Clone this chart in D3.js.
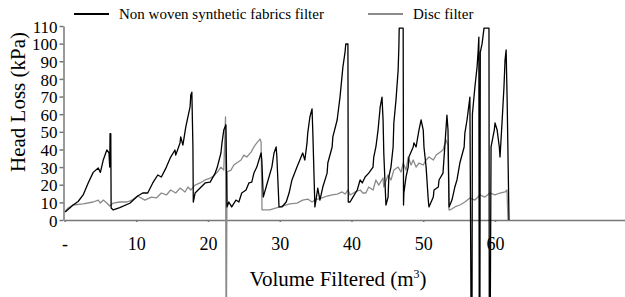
<!DOCTYPE html>
<html>
<head>
<meta charset="utf-8">
<script src="https://cdn.jsdelivr.net/npm/d3@7"></script>
<style>
  html, body { margin: 0; padding: 0; background: #fff; }
  svg { display: block; font-family: "Liberation Serif", "Times New Roman", serif; }
  .axis path, .axis line { stroke: #777; stroke-width: 1.5; }
  .axis text { font-family: "Liberation Serif", "Times New Roman", serif; fill: #000; }
  .series { fill: none; stroke-width: 1.3; stroke-linejoin: round; }
  .legend text { font-size: 15px; }
</style>
</head>
<body>
<svg id="chart" width="625" height="297"></svg>
<script>
// Series names and colours
const seriesNames = ['Non woven synthetic fabrics filter', 'Disc filter'];
const seriesColors = ['#000000', '#8a8a8a'];

// Axis ticks
const xTicks = [0, 10, 20, 30, 40, 50, 60];
const xTickLabels = ['-', '10', '20', '30', '40', '50', '60'];
const yTicks = [0, 10, 20, 30, 40, 50, 60, 70, 80, 90, 100, 110];

// Head loss (kPa) against volume filtered (m3)
const nonwoven = [
  [0.1, 4.5], [1.2, 8.5], [1.9, 10.5], [2.6, 14.2], [3.3, 21], [4.0, 27], [4.7, 29.5], [5.0, 27],
  [5.4, 34], [5.9, 39.7], [6.2, 38], [6.3, 30], [6.35, 49], [6.45, 49], [6.5, 6.8], [6.8, 5.7],
  [7.7, 7], [9.1, 9.5], [10.2, 13.6], [10.9, 15.3], [11.6, 15.3], [12.3, 21], [13.0, 25.5],
  [13.5, 24.4], [14.2, 30], [14.8, 35.7], [15.4, 39.7], [15.5, 36.8], [16.1, 43.7], [16.2, 47.1],
  [16.5, 42.5], [16.9, 52.7], [17.5, 64.1], [17.6, 70.9], [17.75, 72.5], [17.9, 41], [17.95, 10.2],
  [18.2, 15.3], [18.9, 18.1], [19.6, 21], [20.3, 21.5], [21.0, 26.6], [21.3, 30], [21.8, 38],
  [21.95, 43.7], [22.2, 51], [22.5, 54], [22.65, 7.4], [22.9, 10.2], [23.3, 7.4], [23.9, 11.3],
  [24.3, 10.2], [24.7, 15.3], [25.3, 17], [25.7, 21], [26.1, 21.5], [26.4, 26.6], [26.8, 30],
  [27.1, 34], [27.4, 38], [27.5, 34], [27.7, 13], [28.1, 18.7], [28.5, 24.4], [28.9, 30],
  [29.2, 38], [29.5, 41.4], [29.6, 35.7], [29.9, 7.4], [30.3, 7.4], [30.9, 10.2], [31.3, 15.3],
  [31.7, 22.7], [32.4, 30], [32.8, 34], [33.2, 38], [33.5, 34], [33.8, 43.7], [33.9, 49.3],
  [34.2, 58.4], [34.5, 63], [34.6, 51], [34.9, 7.4], [35.2, 15.3], [35.3, 18.1], [35.6, 11.3],
  [36.0, 18.7], [36.6, 26.6], [36.7, 32.3], [37.3, 41.4], [37.4, 47.1], [38.0, 56.7], [38.4, 69.7],
  [38.8, 86.7], [39.1, 95.2], [39.2, 99.8], [39.5, 99.8], [39.55, 10.2], [39.8, 10.2], [40.2, 13],
  [40.8, 17], [41.2, 22.7], [41.5, 21], [41.9, 24.4], [42.4, 26.6], [43.0, 30], [43.1, 35.7],
  [43.4, 41.4], [43.7, 51], [44.0, 64.1], [44.25, 69.7], [44.4, 56.7], [44.5, 38], [44.8, 8.5],
  [45.1, 13], [45.2, 24.4], [45.5, 30], [45.8, 41.4], [45.9, 55], [46.2, 68], [46.5, 85],
  [46.6, 98], [46.65, 108.8], [47.2, 108.8], [47.25, 8.5], [47.3, 15.3], [47.6, 24.4], [47.9, 30],
  [48.0, 35.7], [48.6, 41.4], [48.7, 43.7], [49.0, 41.4], [49.4, 51], [49.7, 56.7], [50.0, 51],
  [50.1, 41.4], [50.4, 30], [50.7, 11.3], [50.8, 7.4], [51.4, 13], [51.5, 17], [52.1, 18.7],
  [52.2, 22.7], [52.75, 26.6], [53.0, 41.4], [53.3, 59.5], [53.45, 51], [53.6, 7.4], [54.0, 11.3],
  [54.4, 18.7], [54.7, 22.7], [55.1, 32.3], [55.7, 41.4], [55.8, 49.3], [56.1, 56.7], [56.4, 66.3],
  [56.5, 69.7], [56.65, -45], [56.8, -45], [56.85, 60], [57.2, 75.4], [57.5, 86.7], [57.65, 96],
  [57.75, 103.7], [57.8, -45], [57.9, -45], [57.95, 95], [58.2, 100], [58.47, 108.8], [59.16, 108.8],
  [59.2, -45], [59.35, -45], [59.45, 41.4], [59.9, 51], [60.0, 55], [60.3, 51], [60.6, 41.4],
  [60.7, 35.7], [61.0, 56.7], [61.25, 75.4], [61.4, 90.7], [61.55, 96.4], [61.7, 66.3], [61.95, 0],
];

const disc = [
  [0, 4.5], [0.5, 6.8], [1.2, 8.5], [2.6, 9.1], [4.0, 10.2], [4.7, 11.3], [5.0, 9.6], [5.4, 11.3],
  [5.9, 9.6], [6.3, 7.9], [6.8, 9.6], [7.7, 10.2], [8.7, 10.2], [9.4, 11.3], [10.2, 13.6], [11.2, 11.3],
  [12.1, 13], [12.8, 12.5], [13.5, 15.3], [14.2, 14.2], [14.8, 17], [15.5, 15.3], [16.1, 18.1],
  [16.8, 15.9], [17.2, 18.7], [17.6, 17], [18.2, 19.8], [18.9, 21], [19.6, 22.7], [20.3, 23.8],
  [20.8, 24.9], [21.3, 27.2], [21.8, 30], [22.2, 28.3], [22.44, 58.4], [22.51, -45], [22.58, -45],
  [22.65, 27.2], [23.2, 28.3], [23.6, 31.2], [24.0, 32.3], [24.6, 34], [25.0, 36.8], [25.4, 35.7],
  [26.0, 38.5], [26.4, 41.4], [26.8, 43.7], [27.25, 45.9], [27.4, 44.2], [27.53, 5.7], [28.6, 5.7],
  [30.0, 7.4], [31.4, 9.1], [32.4, 9.6], [33.2, 11.3], [33.9, 11.9], [34.5, 10.2], [34.9, 11.3],
  [35.3, 11.9], [35.9, 12.5], [36.6, 13.6], [37.3, 14.2], [38.0, 14.7], [38.7, 15.9], [39.1, 14.7],
  [39.5, 17], [39.8, 14.2], [40.5, 15.9], [41.2, 17], [41.6, 15.3], [42.0, 15.3], [42.4, 18.7],
  [43.0, 17], [43.4, 22.7], [43.8, 19.8], [44.4, 23.8], [44.5, 18.7], [45.1, 25.5], [45.5, 22.7],
  [45.9, 28.3], [46.5, 30], [46.9, 27.2], [47.2, 32.3], [47.6, 28.3], [47.9, 35.7], [48.3, 31.2],
  [48.6, 34], [49.0, 30], [49.4, 32.3], [50.0, 31.2], [50.4, 34], [50.8, 35.7], [51.4, 34],
  [51.8, 36.8], [52.2, 38], [52.75, 39.7], [53.17, 45.4], [53.45, 42.5], [53.59, 5.7], [53.73, 5.7],
  [54.4, 7.4], [55.1, 8.5], [55.8, 10.2], [56.5, 12.5], [57.2, 11.3], [57.9, 14.2], [58.6, 13],
  [59.3, 15.3], [60.0, 14.2], [60.7, 15.3], [61.4, 15.9], [61.67, 17], [61.81, 0],
];

const svg = d3.select('#chart');

const x = d3.scaleLinear().domain([0, 80]).range([64.5, 638.5]);
const y = d3.scaleLinear().domain([0, 110]).range([220, 26]);

// Axes
svg.append('g')
  .attr('class', 'axis x')
  .attr('transform', 'translate(0, 220)')
  .call(d3.axisBottom(x)
    .tickValues(xTicks)
    .tickFormat((d, i) => xTickLabels[i])
    .tickSize(2)
    .tickSizeOuter(0)
    .tickPadding(15))
  .attr('font-family', null)
  .call((g) => g.selectAll('.tick line').attr('stroke', '#000').attr('stroke-width', 1))
  .call((g) => g.selectAll('.tick text').style('font-size', '18px'));

svg.append('g')
  .attr('class', 'axis y')
  .attr('transform', 'translate(63.5, 0)')
  .call(d3.axisLeft(y)
    .tickValues(yTicks)
    .tickSize(4)
    .tickSizeOuter(0)
    .tickPadding(2))
  .attr('font-family', null)
  .call((g) => g.selectAll('.tick text').style('font-size', '17px').attr('dy', '0.36em'));

// Lines (disc under, non woven on top)
const line = d3.line()
  .x((d) => x(d[0]))
  .y((d) => y(d[1]));

svg.append('path')
  .datum(disc)
  .attr('class', 'series disc')
  .attr('stroke', seriesColors[1])
  .attr('d', line);

svg.append('path')
  .datum(nonwoven)
  .attr('class', 'series nonwoven')
  .attr('stroke', seriesColors[0])
  .attr('d', line);

// Axis titles
svg.append('text')
  .attr('transform', 'translate(25, 102) rotate(-90)')
  .attr('text-anchor', 'middle')
  .style('font-size', '21px')
  .text('Head Loss (kPa)');

const xTitle = svg.append('text')
  .attr('x', 338)
  .attr('y', 286)
  .attr('text-anchor', 'middle')
  .style('font-size', '21px');
xTitle.append('tspan').text('Volume Filtered (m');
xTitle.append('tspan').attr('dy', -8).style('font-size', '12px').text('3');
xTitle.append('tspan').attr('dy', 8).text(')');

// Legend
const legend = svg.append('g').attr('class', 'legend');
const legendItems = [
  {name: seriesNames[0], color: seriesColors[0], x0: 74},
  {name: seriesNames[1], color: seriesColors[1], x0: 368},
];
legend.selectAll('line')
  .data(legendItems)
  .join('line')
  .attr('x1', (d) => d.x0)
  .attr('x2', (d) => d.x0 + 35)
  .attr('y1', 14)
  .attr('y2', 14)
  .attr('stroke', (d) => d.color)
  .attr('stroke-width', 2);
legend.selectAll('text')
  .data(legendItems)
  .join('text')
  .attr('x', (d) => d.x0 + 45)
  .attr('y', 19)
  .text((d) => d.name);
</script>
</body>
</html>
